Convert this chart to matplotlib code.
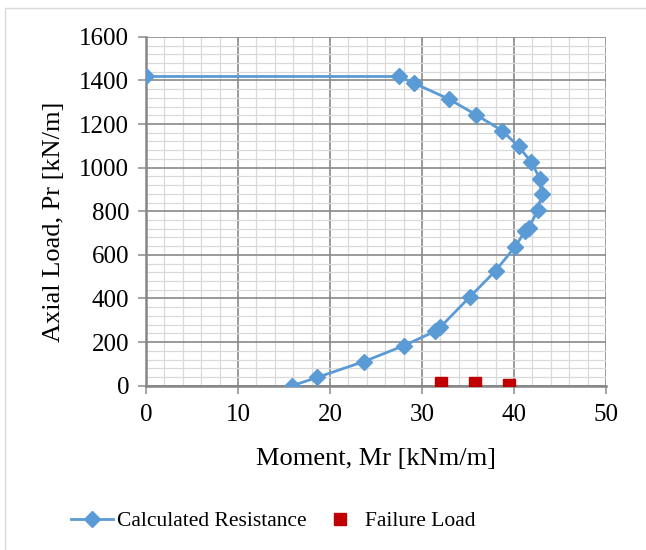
import numpy as np
import matplotlib.pyplot as plt
from matplotlib.ticker import MultipleLocator
from matplotlib.patches import Rectangle

# calculated interaction curve (moment kNm/m, axial kN/m)
calc_moment = [0.0, 27.5, 29.1, 32.9, 35.9, 38.7, 40.5, 41.9, 42.8, 43.0, 42.6,
               41.6, 41.2, 40.1, 38.0, 35.2, 32.0, 31.4, 28.0, 23.7, 18.6, 15.9]
calc_axial = [1418, 1418, 1388, 1315, 1242, 1170, 1097, 1025, 950, 878, 804,
              724, 708, 636, 527, 407, 269, 249, 183, 111, 38, 0]

# test failure loads
fail_moment = [32.1, 35.8, 39.5]
fail_axial = [12, 12, 3]

plt.rcParams['font.family'] = ['Liberation Serif', 'DejaVu Serif']

fig = plt.figure(figsize=(6.46, 5.5), dpi=100)
ax = fig.add_axes([0.226, 0.2987, 0.712, 0.6344])

ax.plot(calc_moment, calc_axial, color='#5b9bd5', lw=2.0, marker='D',
        markersize=8, label='Calculated Resistance', zorder=3)
ax.plot(fail_moment, fail_axial, ls='none', marker='s', color='#c00000',
        markersize=8, label='Failure Load', zorder=4)

ax.set_xlim(0, 50)
ax.set_ylim(0, 1600)
ax.xaxis.set_major_locator(MultipleLocator(10))
ax.xaxis.set_minor_locator(MultipleLocator(2))
ax.yaxis.set_major_locator(MultipleLocator(200))
ax.yaxis.set_minor_locator(MultipleLocator(40))
ax.grid(which='major', color='#898989', lw=1.2)
ax.grid(which='minor', color='#d9d9d9', lw=0.9)
ax.set_axisbelow(True)

for s in ['top', 'right']:
    ax.spines[s].set_visible(False)
for s in ['left', 'bottom']:
    ax.spines[s].set_color('#868686')
    ax.spines[s].set_linewidth(1.8)

ax.tick_params(which='major', direction='out', length=6, width=1.1,
               color='#8c8c8c', labelsize=18, pad=6)
ax.tick_params(axis='x', pad=7)
ax.tick_params(which='minor', length=0)

ax.set_xlabel('Moment, Mr [kNm/m]', fontsize=19, labelpad=16)
ax.set_ylabel('Axial Load, Pr [kN/m]', fontsize=19)
ax.yaxis.set_label_coords(-0.176, 0.47)

fig.legend(loc='center left', bbox_to_anchor=(71 / 646, 0.052), ncol=2,
           frameon=False, fontsize=15.5, handlelength=1.95, columnspacing=0.55,
           handletextpad=0.2, borderpad=0, borderaxespad=0)

fig.patches.append(Rectangle((5 / 646, -0.05), 1.2, 1 - 8 / 550 + 0.05,
                             transform=fig.transFigure, fill=False,
                             edgecolor='#d9d9d9', lw=1))

fig.savefig('out.png', dpi=100)
